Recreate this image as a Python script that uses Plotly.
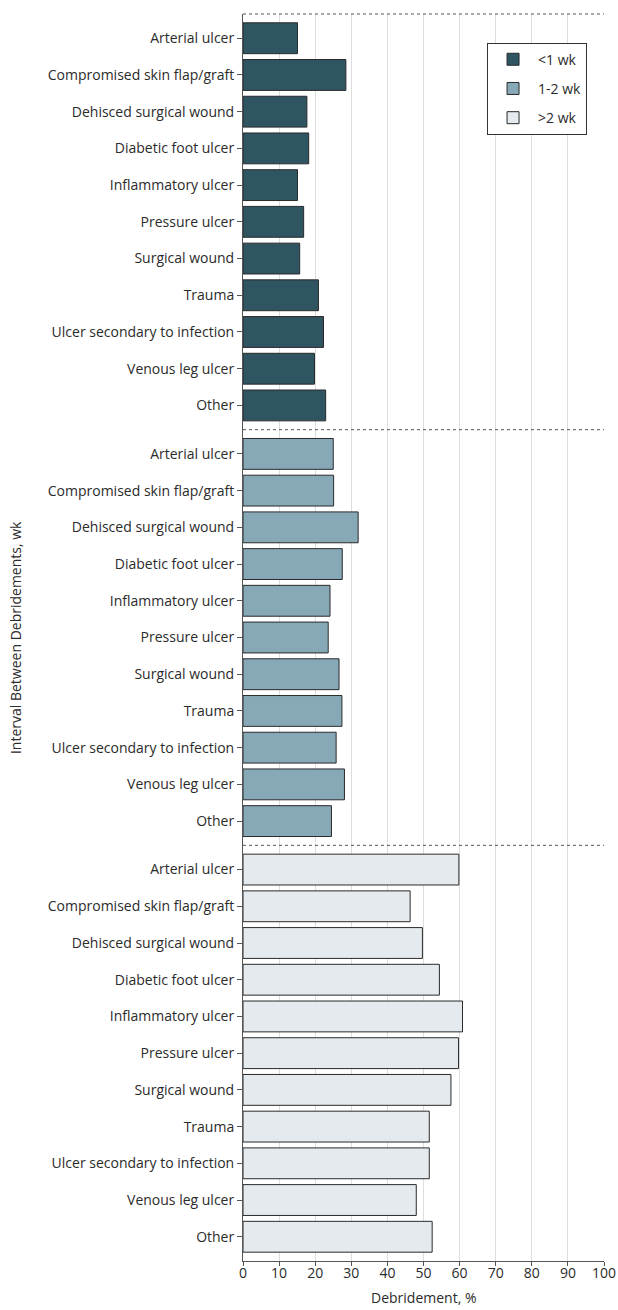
import plotly.graph_objects as go
from plotly.subplots import make_subplots

categories = ["Arterial ulcer", "Compromised skin flap/graft", "Dehisced surgical wound",
              "Diabetic foot ulcer", "Inflammatory ulcer", "Pressure ulcer", "Surgical wound",
              "Trauma", "Ulcer secondary to infection", "Venous leg ulcer", "Other"]
lt1wk = [15.1, 28.5, 17.7, 18.2, 15.1, 16.8, 15.7, 20.9, 22.3, 19.8, 22.9]
wk1_2 = [25.0, 25.1, 31.9, 27.5, 24.1, 23.6, 26.6, 27.4, 25.8, 28.1, 24.5]
gt2wk = [59.8, 46.3, 49.7, 54.4, 60.8, 59.7, 57.6, 51.6, 51.6, 48.0, 52.4]
series_names = ["<1 wk", "1-2 wk", ">2 wk"]
colors = ["#2f5562", "#86a8b7", "#e4eaed"]
x_ticks = [0, 10, 20, 30, 40, 50, 60, 70, 80, 90, 100]

FONT = "Open Sans"
TXT = "#2b2b2b"
FS = 14

fig = make_subplots(rows=3, cols=1, shared_xaxes=True, vertical_spacing=0)
for i, (name, vals, col) in enumerate(zip(series_names, [lt1wk, wk1_2, gt2wk], colors)):
    fig.add_trace(go.Bar(
        x=vals, y=categories, orientation="h", name=name, legendgroup=name,
        marker=dict(color=col, line=dict(color="#2a2a2a", width=1)),
        width=0.84, showlegend=True,
    ), row=i + 1, col=1)

for r in range(1, 4):
    fig.update_yaxes(
        type="category", categoryorder="array", categoryarray=categories,
        range=[10.66, -0.66], showline=True, linecolor="#555555", linewidth=1,
        ticks="outside", ticklen=5, tickcolor="#555555", showgrid=False,
        tickfont=dict(family=FONT, size=FS, color=TXT), zeroline=False,
        automargin=False, row=r, col=1)
    fig.update_xaxes(
        range=[0, 100], tickvals=x_ticks, showgrid=True, gridcolor="#dddddd",
        gridwidth=1, zeroline=False, automargin=False, row=r, col=1)
    xr = "x" if r == 1 else f"x{r}"
    yr = "y" if r == 1 else f"y{r}"
    fig.add_shape(type="line", xref=f"{xr} domain", yref=f"{yr} domain",
                  x0=0, x1=1, y0=1, y1=1,
                  line=dict(color="#555555", width=1, dash="dot"))

fig.update_xaxes(showticklabels=False, ticks="", row=1, col=1)
fig.update_xaxes(showticklabels=False, ticks="", row=2, col=1)
fig.update_xaxes(
    showline=True, linecolor="#555555", linewidth=1, ticks="outside", ticklen=4,
    tickcolor="#555555", tickfont=dict(family=FONT, size=FS, color=TXT),
    ticklabelstandoff=-5,
    row=3, col=1)

fig.add_annotation(
    text="Debridement, %", xref="paper", yref="paper", x=0.5, y=0,
    xanchor="center", yanchor="top", yshift=-25, showarrow=False,
    font=dict(family=FONT, size=FS, color=TXT))

fig.add_annotation(
    text="Interval Between Debridements, wk", textangle=-90,
    xref="paper", yref="paper", x=-0.63, y=0.5, xanchor="center", yanchor="middle",
    showarrow=False, font=dict(family=FONT, size=FS, color=TXT))

fig.update_layout(
    width=618, height=1310,
    margin=dict(l=243, r=14, t=14, b=49),
    plot_bgcolor="white", paper_bgcolor="white",
    font=dict(family=FONT, size=FS, color=TXT),
    legend=dict(
        x=0.676, y=0.977, xanchor="left", yanchor="top",
        bgcolor="white", bordercolor="#333333", borderwidth=1,
        font=dict(family=FONT, size=FS, color=TXT),
        tracegroupgap=8, traceorder="grouped", itemwidth=40,
    ),
)

fig.write_html(
    "out.html",
    config={"displayModeBar": False},
    post_script="document.body.style.margin='0';document.body.style.overflow='hidden';",
)
